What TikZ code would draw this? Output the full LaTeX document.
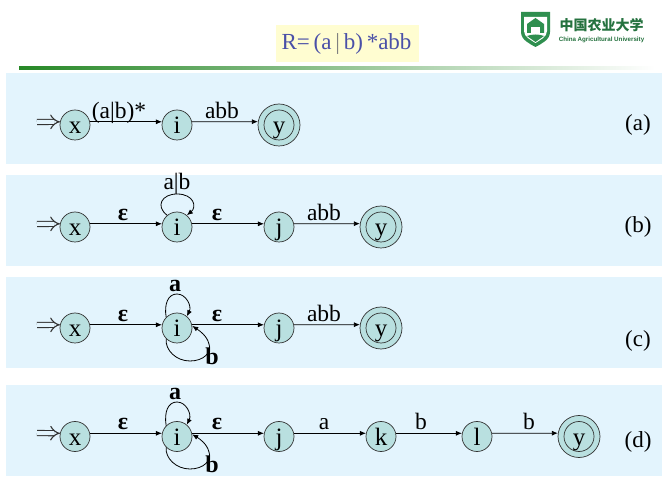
\documentclass[tikz,border=0pt]{standalone}
\usepackage{fontspec}
\setmainfont{Liberation Serif}
\newfontfamily\cjkfont{Noto Sans CJK SC}
\newfontfamily\lsans{Liberation Sans}
\usetikzlibrary{arrows.meta,shapes.geometric}
\definecolor{panel}{HTML}{E3F4FD}
\definecolor{stfill}{HTML}{B9E0E0}
\definecolor{titleblue}{HTML}{4A50A8}
\definecolor{logogreen}{HTML}{2F8F4F}
\tikzset{
  panelbox/.style={fill=panel,draw=none,anchor=north west,inner sep=0pt,minimum width=656pt,minimum height=91pt},
  st/.style={circle,draw=black!80,fill=stfill,line width=0.7pt,minimum size=30pt,inner sep=0pt,text height=18pt,text depth=0pt,font=\fontsize{25}{25}\selectfont},
  fin/.style={st,path picture={\draw[black!80,line width=0.7pt] (path picture bounding box.center) circle (15pt);},minimum size=42pt},
  conn/.style={draw=black,line width=0.8pt,-{Latex[length=6pt,width=5pt]}},
  start/.style={draw=black!80,double=panel,double distance=4pt,line width=1.1pt,-{Implies[length=7pt]}},
  lab/.style={font=\fontsize{23.5}{23.5}\selectfont,inner sep=0pt,anchor=base},
  sym/.style={font=\fontsize{24}{24}\bfseries\selectfont,inner sep=0pt,anchor=base},
  tag/.style={font=\fontsize{23}{23}\selectfont,inner sep=0pt,anchor=base}
}
\begin{document}
\begin{tikzpicture}[x=1pt,y=-1pt]
\useasboundingbox (0,0) rectangle (662,478);
\fill[white] (0,0) rectangle (662,478);
% header
\node[fill=yellow!18,inner sep=0pt,minimum width=143pt,minimum height=37pt] (titlebox) at (347.5,43.5) {};
\node[text=titleblue,font=\fontsize{23}{23}\selectfont,inner sep=0pt] (title) at (346.5,44) {R=\,(a\,\textcolor{gray}{|}\,b)\,*abb};
\shade[left color=green!45!black!85,right color=white] (19,66.5) rectangle (655,69.5);
% logo
\path[fill=logogreen] (521,12) -- (550,12) -- (550,32) .. controls (550,40) and (541,44) .. (535.5,47) .. controls (530,44) and (521,40) .. (521,32) -- cycle;
\path[fill=white] (524,17) -- (547,17) -- (547,31) .. controls (547,37) and (540,40) .. (535.5,43) .. controls (531,40) and (524,37) .. (524,31) -- cycle;
\path[fill=logogreen] (527,24) -- (535.5,18) -- (544,24) -- (544,33) -- (527,33) -- cycle;
\path[fill=white] (531,27) rectangle (540,33);
\path[fill=logogreen] (527,36) .. controls (532,34) and (539,34) .. (544,36) -- (535.5,42) -- cycle;
\node[text=logogreen!80!black,font=\cjkfont\bfseries\fontsize{14}{15}\selectfont,inner sep=0pt] (logocn) at (601.5,25) {中国农业大学};
\node[text=logogreen!80!black,font=\lsans\bfseries\fontsize{6.2}{7}\selectfont,inner sep=0pt] (logoen) at (601.5,40) {China Agricultural University};
% panels
\node[panelbox] (pa) at (6,73) {};
\node[panelbox] (pb) at (6,175) {};
\node[panelbox] (pc) at (6,277) {};
\node[panelbox] (pd) at (6,385) {};
\node[tag] (ta) at (638,131) {(a)};
\node[tag] (tb) at (638,233) {(b)};
\node[tag] (tc) at (638,347) {(c)};
\node[tag] (td) at (638,448) {(d)};
% row a
\coordinate (sa) at (37,122);
\node[st] (xa) at (75,125) {x};
\node[st] (ia) at (177,125) {i};
\node[fin] (ya) at (279,125) {y};
\draw[start] (sa) -- (xa.168);
\draw[conn] (xa.12) -- (ia.168);
\draw[conn] (ia.12) -- (ya.171.5);
\node[lab] (la1) at (119,119) {(a|b)*};
\node[lab] (la2) at (222,119) {abb};
% row b
\coordinate (sb) at (37,224);
\node[st] (xb) at (75,227) {x};
\node[st] (ib) at (177,227) {i};
\node[st] (jb) at (279,227) {j};
\node[fin] (yb) at (381,227) {y};
\draw[start] (sb) -- (xb.168);
\draw[conn] (xb.12) -- (ib.168);
\draw[conn] (ib.12) -- (jb.168);
\draw[conn] (jb.12) -- (yb.171.5);
\draw[conn] (ib.130) .. controls (155,206) and (162,194) .. (177,194) .. controls (194,194) and (197,207) .. (ib.50);
\node[sym] (eb1) at (123,221) {ε};
\node[sym] (eb2) at (217,221) {ε};
\node[lab] (lb1) at (177,190) {a|b};
\node[lab] (lb2) at (324,221) {abb};
% row c
\coordinate (sc) at (37,325);
\node[st] (xc) at (75,328) {x};
\node[st] (ic) at (177,328) {i};
\node[st] (jc) at (279,328) {j};
\node[fin] (yc) at (381,328) {y};
\draw[start] (sc) -- (xc.168);
\draw[conn] (xc.12) -- (ic.168);
\draw[conn] (ic.12) -- (jc.168);
\draw[conn] (jc.12) -- (yc.171.5);
\draw[conn] (ic.135) .. controls (164,304) and (168,294) .. (177,294) .. controls (186,294) and (192,306) .. (ic.50);
\draw[conn] (ic.225) .. controls (165,350) and (176,361) .. (190,361) .. controls (204,361) and (212,352) .. (209,344) .. controls (207,336) and (200,331) .. (ic.8);
\node[sym] (ac) at (175,292) {a};
\node[sym] (bc) at (212,365) {b};
\node[sym] (ec1) at (123,322) {ε};
\node[sym] (ec2) at (217,322) {ε};
\node[lab] (lc2) at (324,322) {abb};
% row d
\coordinate (sd) at (37,433);
\node[st] (xd) at (75,436.5) {x};
\node[st] (id) at (177,436.5) {i};
\node[st] (jd) at (279,436.5) {j};
\node[st] (kd) at (381,436.5) {k};
\node[st] (ld) at (477,436.5) {l};
\node[fin] (yd) at (579,436.5) {y};
\draw[start] (sd) -- (xd.168);
\draw[conn] (xd.12) -- (id.168);
\draw[conn] (id.12) -- (jd.168);
\draw[conn] (jd.12) -- (kd.168);
\draw[conn] (kd.12) -- (ld.168);
\draw[conn] (ld.12) -- (yd.171.5);
\draw[conn] (id.135) .. controls (164,412) and (168,402) .. (177,402) .. controls (186,402) and (192,414) .. (id.50);
\draw[conn] (id.225) .. controls (165,458) and (176,469) .. (190,469) .. controls (204,469) and (212,460) .. (209,452) .. controls (207,444) and (200,439) .. (id.8);
\node[sym] (ad) at (175,400) {a};
\node[sym] (bd) at (212,472) {b};
\node[sym] (ed1) at (123,430) {ε};
\node[sym] (ed2) at (217,430) {ε};
\node[lab] (ld1) at (324,430) {a};
\node[lab] (ld2) at (421,430) {b};
\node[lab] (ld3) at (529,430) {b};
\end{tikzpicture}
\end{document}
